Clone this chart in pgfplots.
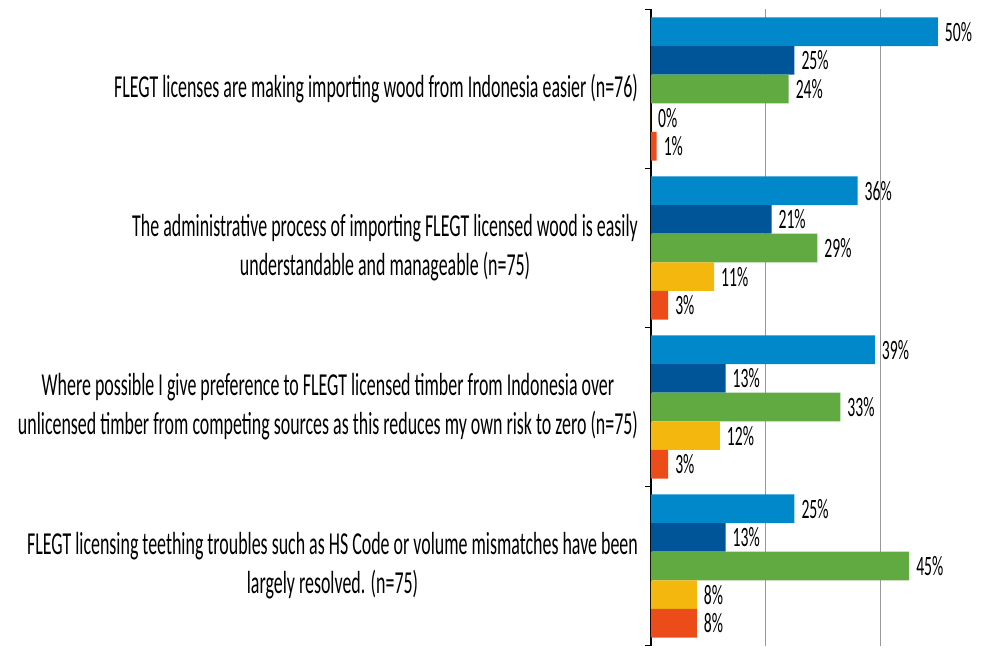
\documentclass[border=0pt]{standalone}
\usepackage{fontspec}
\setmainfont{Carlito}[FakeStretch=0.56]
\usepackage{pgfplots}
\pgfplotsset{compat=1.18}

\definecolor{cBlue}{RGB}{0,136,202}
\definecolor{cDark}{RGB}{0,84,152}
\definecolor{cGreen}{RGB}{97,170,66}
\definecolor{cYellow}{RGB}{243,183,14}
\definecolor{cRed}{RGB}{236,76,26}

\begin{document}
\begin{tikzpicture}
\begin{axis}[
    xbar,
    scale only axis,
    width=169pt, height=318pt,
    xmin=0, xmax=58.9,
    ymin=-0.5, ymax=3.5,
    y dir=reverse,
    bar width=0.18,
    axis y line*=left,
    axis x line*=bottom,
    x axis line style={draw=none},
    y axis line style={black, line width=0.6pt},
    xtick={20,40},
    xticklabels={},
    xtick style={draw=none},
    xmajorgrids,
    grid style={gray!80, line width=0.5pt},
    ytick={0,1,2,3},
    yticklabels={
      {FLEGT licenses are making importing wood from Indonesia easier (n=76)},
      {The administrative process of importing FLEGT licensed wood is easily\\understandable and manageable (n=75)},
      {Where possible I give preference to FLEGT licensed timber from Indonesia over\\unlicensed timber from competing sources as this reduces my own risk to zero (n=75)},
      {FLEGT licensing teething troubles such as HS Code or volume mismatches have been\\largely resolved. (n=75)}},
    yticklabel style={align=center, font=\fontsize{16}{19.5}\selectfont, xshift=-3pt},
    minor ytick={-0.5,0.5,1.5,2.5,3.5},
    major tick length=0pt,
    minor tick length=3pt,
    tick align=outside,
    ytick style={black, line width=0.6pt},
    /pgf/number format/assume math mode=true,
    nodes near coords={\pgfmathprintnumber{\pgfplotspointmeta}\%},
    nodes near coords style={anchor=west, font=\fontsize{14}{16}\selectfont, black},
]
\addplot[fill=cBlue, draw=none, bar shift=-0.36] coordinates {(50,0) (36,1) (39,2) (25,3)};
\addplot[fill=cDark, draw=none, bar shift=-0.18] coordinates {(25,0) (21,1) (13,2) (13,3)};
\addplot[fill=cGreen, draw=none, bar shift=0] coordinates {(24,0) (29,1) (33,2) (45,3)};
\addplot[fill=cYellow, draw=none, bar shift=0.18] coordinates {(0,0) (11,1) (12,2) (8,3)};
\addplot[fill=cRed, draw=none, bar shift=0.36] coordinates {(1,0) (3,1) (3,2) (8,3)};
\end{axis}
\pgfresetboundingbox
\path ([xshift=-325.5pt,yshift=-0.75pt]current axis.south west) rectangle ([yshift=4.75pt]current axis.north east);
\end{tikzpicture}
\end{document}
